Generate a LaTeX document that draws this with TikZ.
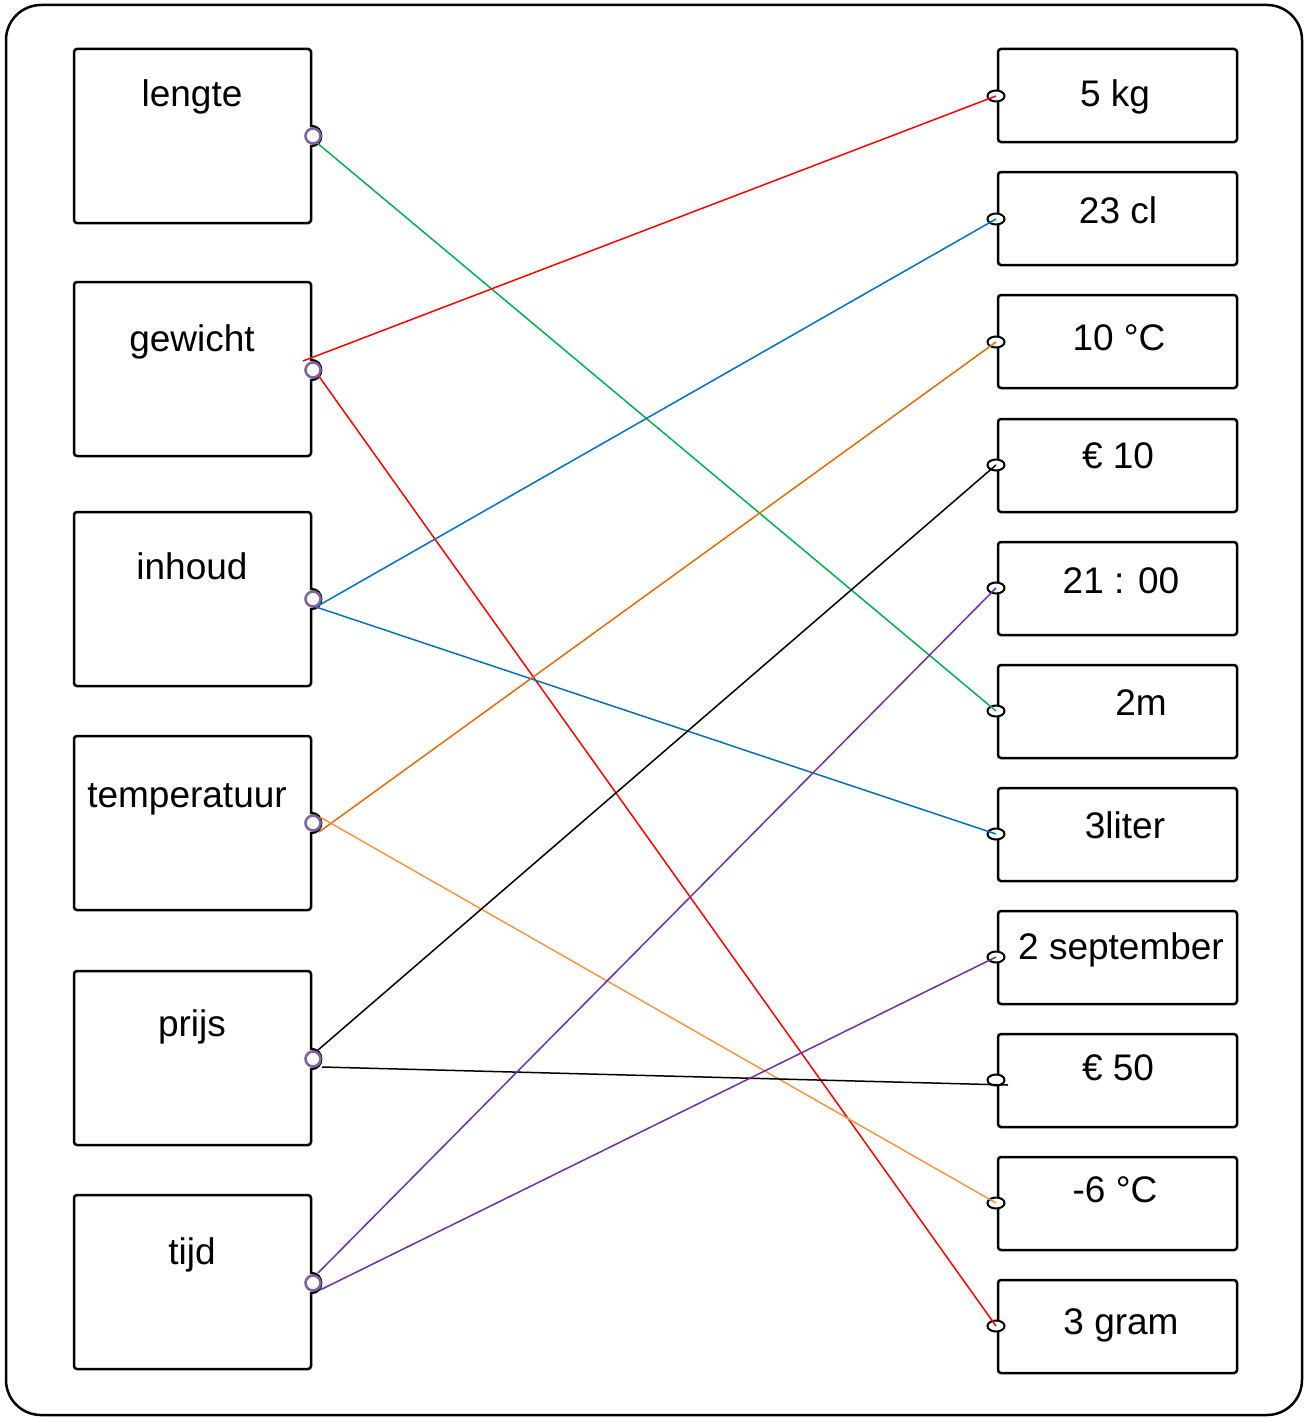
\documentclass[tikz,border=0pt]{standalone}
\usepackage{fontspec}
\setmainfont{Liberation Sans}
\usetikzlibrary{shapes.geometric}
\definecolor{cgreen}{HTML}{00B050}
\definecolor{cred}{HTML}{FF0000}
\definecolor{cblue}{HTML}{0070C0}
\definecolor{corange}{HTML}{E36C0A}
\definecolor{clorange}{HTML}{F79646}
\definecolor{cpurple}{HTML}{7030A0}
\definecolor{ring}{HTML}{8064A2}
\begin{document}
\begin{tikzpicture}[x=1pt,y=-1pt,
  frame/.style={draw,line width=2.5pt,rounded corners=35pt},
  lbox/.style={draw,line width=2.5pt,rounded corners=3pt,minimum width=237pt,minimum height=174pt,inner sep=0pt},
  rbox/.style={draw,line width=2.5pt,rounded corners=3pt,minimum width=239pt,minimum height=93pt,inner sep=0pt},
  lbl/.style={anchor=base,inner sep=0pt,font=\fontsize{37}{40}\selectfont},
  lsock/.style={circle,draw=ring,line width=2.6pt,fill=white,minimum size=15pt,inner sep=0pt},
  rsock/.style={ellipse,draw,line width=2pt,fill=white,minimum width=17pt,minimum height=11pt,inner sep=0pt},
  bump/.style={line width=2.5pt},
  conn/.style={line width=1.5pt}]
\useasboundingbox (0,0) rectangle (1305,1418);
\draw[frame] (6,5) rectangle (1302,1415);

% left boxes
\foreach \n/\t in {1/49,2/282,3/512,4/736,5/971,6/1195}{
  \node[lbox] (L\n) at (192.5,\t+87) {};
}
% right boxes
\foreach \n/\t in {1/49,2/172,3/295,4/419,5/542,6/665,7/788,8/911,9/1034,10/1157,11/1280}{
  \node[rbox] (R\n) at (1117.5,\t+46.5) {};
}

% left labels
\node[lbl] (tl1) at (192,107) {lengte};
\node[lbl] (tl2) at (192,351) {gewicht};
\node[lbl] (tl3) at (192,579) {inhoud};
\node[lbl] (tl4) at (187,807) {temperatuur};
\node[lbl] (tl5) at (192,1036) {prijs};
\node[lbl] (tl6) at (192,1264) {tijd};

% right labels
\node[lbl] (tr1) at (1115,107) {5 kg};
\node[lbl] (tr2) at (1118,223) {23 cl};
\node[lbl] (tr3) at (1119,350) {10 °C};
\node[lbl] (tr4) at (1118,468) {€ 10};
\node[lbl] (tr5) at (1121,593) {21 : 00};
\node[lbl] (tr6) at (1141,715) {2m};
\node[lbl] (tr7) at (1125,838) {3liter};
\node[lbl] (tr8) at (1121,959) {2 september};
\node[lbl] (tr9) at (1118,1080) {€ 50};
\node[lbl] (tr10) at (1115,1202) {-6 °C};
\node[lbl] (tr11) at (1121,1334) {3 gram};

% bumps on left boxes
\foreach \y in {136,370,599,823,1059,1283}{
  \fill[white] (311,\y) circle[radius=9];
  \draw[bump] (311,\y-10) .. controls (324.5,\y-10) and (324.5,\y+10) .. (311,\y+10);
}

% right sockets
\foreach \n/\y in {1/96,2/219,3/342,4/465,5/588,6/711,7/834,8/957,9/1080,10/1203,11/1326}{
  \node[rsock] (rs\n) at (996,\y) {};
}

% connector start points
\coordinate (g1) at (316,142);
\coordinate (r1) at (303,361);
\coordinate (r2) at (318,375);
\coordinate (b1) at (316,607);
\coordinate (o1) at (319,832);
\coordinate (o2) at (320,817);
\coordinate (k1) at (318,1050);
\coordinate (k2) at (322,1067);
\coordinate (k2e) at (1008,1085);
\coordinate (p1) at (318,1273);
\coordinate (p2) at (320,1290);

\draw[conn,cgreen] (g1) -- (rs6.center);
\draw[conn,cred] (r1) -- (rs1.center);
\draw[conn,cred] (r2) -- (rs11.center);
\draw[conn,cblue] (b1) -- (rs2.center);
\draw[conn,cblue] (b1) -- (rs7.center);
\draw[conn,corange] (o1) -- (rs3.center);
\draw[conn,clorange] (o2) -- (rs10.center);
\draw[conn,black] (k1) -- (rs4.center);
\draw[conn,black] (k2) -- (k2e);
\draw[conn,cpurple] (p1) -- (rs5.center);
\draw[conn,cpurple] (p2) -- (rs8.center);

% left sockets
\foreach \n/\y in {1/136,2/370,3/599,4/823,5/1059,6/1283}{
  \node[lsock] (ls\n) at (313,\y) {};
}
\end{tikzpicture}
\end{document}
